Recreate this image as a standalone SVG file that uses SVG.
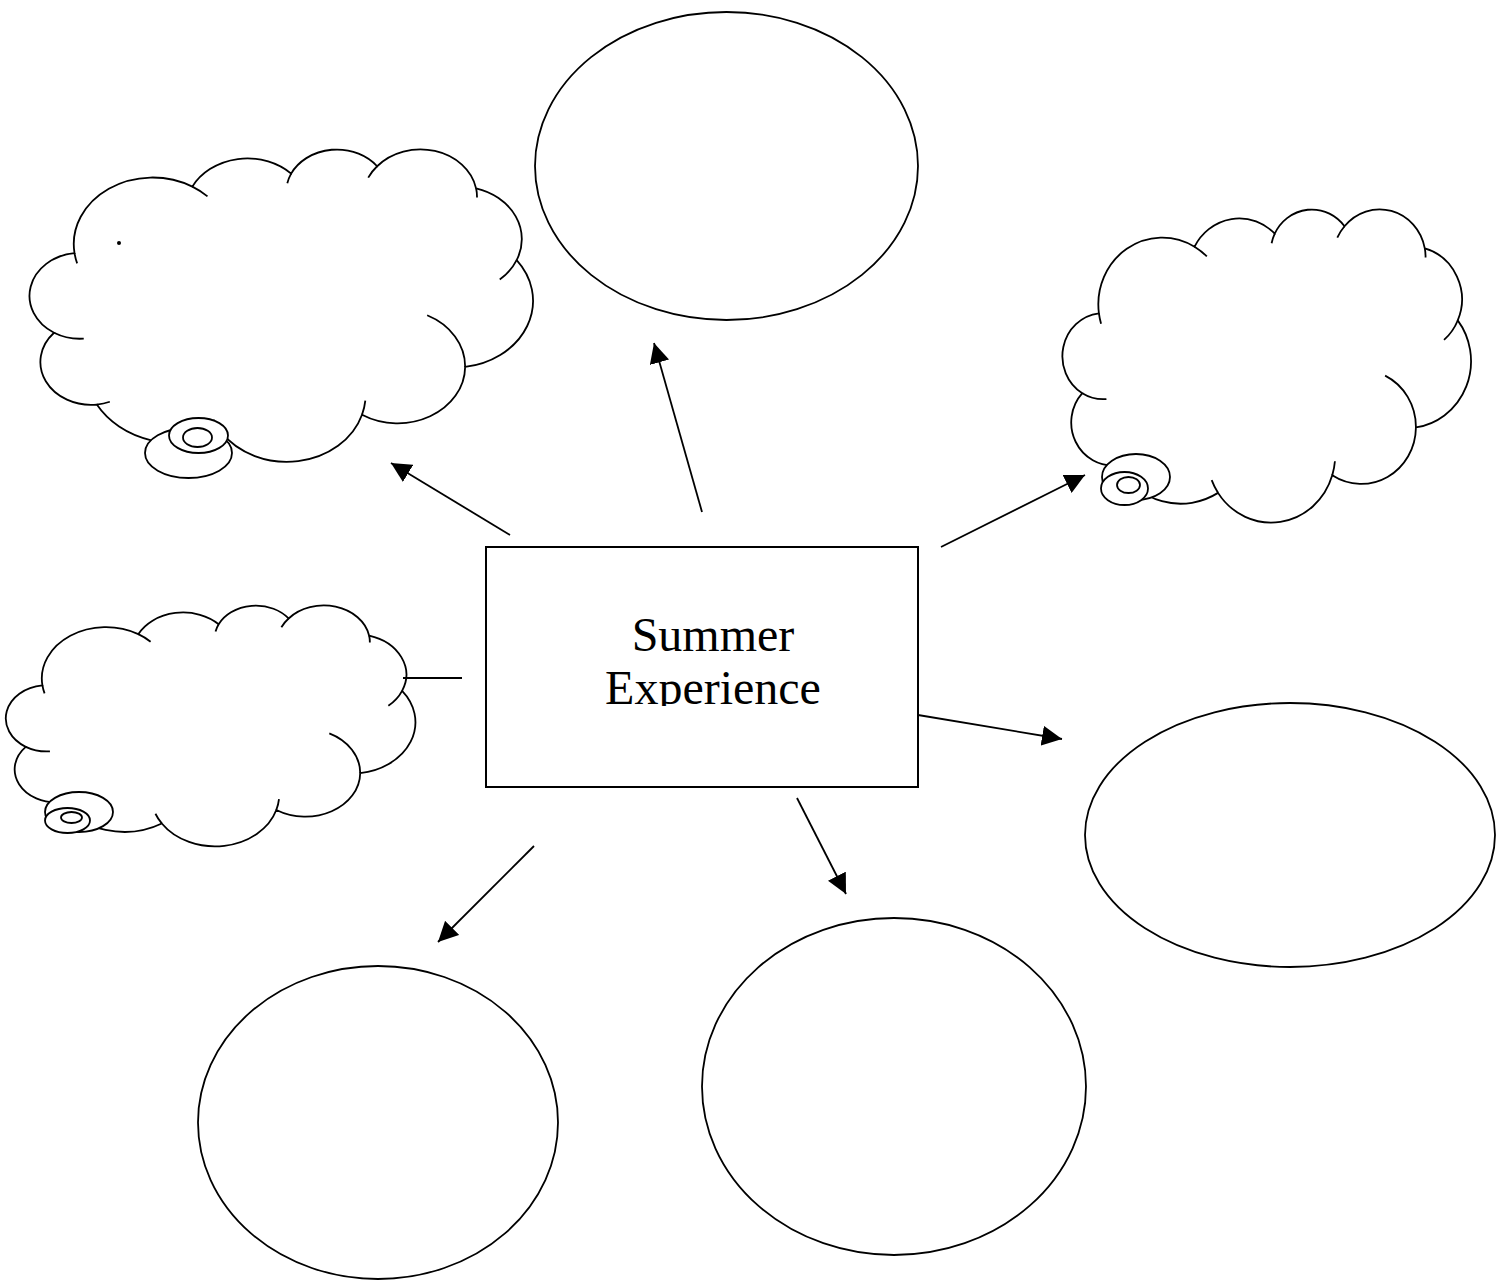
<svg xmlns="http://www.w3.org/2000/svg" width="1508" height="1282" viewBox="0 0 1508 1282">
<style>
.ln{fill:none;stroke:#000;stroke-width:1.8}
.sh{fill:#fff;stroke:#000;stroke-width:1.8}
.cl{fill:#fff;stroke:#000;stroke-width:1.8;vector-effect:non-scaling-stroke}
.ct{fill:none;stroke:#000;stroke-width:1.8;vector-effect:non-scaling-stroke}
.lbl{font-family:"Liberation Serif","Times New Roman",serif;font-size:48px;fill:#000;text-anchor:middle}
</style>
<defs>
<marker id="ah" markerUnits="userSpaceOnUse" markerWidth="20" markerHeight="20" refX="20" refY="10" orient="auto" viewBox="0 0 20 20">
<path d="M0,0 L20,10 L0,20 Z" fill="#000"/>
</marker>
<clipPath id="txtclip"><rect x="486" y="547" width="432" height="159"/></clipPath>
</defs>
<rect width="1508" height="1282" fill="#fff"/>

<g id="cloud-topleft">
<g transform="translate(29,149) scale(0.0116667,0.0072425)">
<path class="cl" d="M3900 14370 A6753 9190 0 0 1 14000 5192 A5333 7267 0 0 1 22470 3400 A4365 5945 0 0 1 29840 2380 A4857 6595 0 0 1 38320 5430 A5333 7273 0 0 1 41800 15340 A6775 9220 0 0 1 37383 30086 A5785 7867 0 0 1 28545 36690 A6752 9215 0 0 1 16480 39100 A7720 10543 0 0 1 5815 35285 A4360 5918 0 0 1 2145 25370 A4345 5945 0 0 1 3900 14370 Z"/>
<path class="ct" d="M4693 26177 A4345 5945 0 0 1 2145 25370 M6928 34899 A4360 5918 0 0 1 5815 35285 M16478 39090 A6752 9215 0 0 1 15810 37351 M28827 34751 A6752 9215 0 0 1 28545 36690 M34129 22954 A5785 7867 0 0 1 37383 30086 M41798 15354 A5333 7273 0 0 1 40350 18030 M38324 5426 A4857 6595 0 0 1 38400 6691 M29078 3952 A4857 6595 0 0 1 29840 2380 M22141 4720 A4365 5945 0 0 1 22470 3400 M14000 5192 A6753 9190 0 0 1 15299 6540 M4127 15789 A6753 9190 0 0 1 3900 14370"/>
</g>
<ellipse class="sh" cx="188.5" cy="453" rx="43.5" ry="25"/>
<ellipse class="sh" cx="198.5" cy="435.5" rx="29.5" ry="17.5"/>
<ellipse class="sh" cx="197.5" cy="437.5" rx="14.5" ry="9.5"/>
<circle cx="119" cy="243" r="2" fill="#000"/>
</g>

<g id="cloud-topright">
<g transform="translate(1062,209) scale(0.0094676,0.00726)">
<path class="cl" d="M3900 14370 A6753 9190 0 0 1 14000 5192 A5333 7267 0 0 1 22470 3400 A4365 5945 0 0 1 29840 2380 A4857 6595 0 0 1 38320 5430 A5333 7273 0 0 1 41800 15340 A6775 9220 0 0 1 37383 30086 A5785 7867 0 0 1 28545 36690 A6752 9215 0 0 1 16480 39100 A7720 10543 0 0 1 5815 35285 A4360 5918 0 0 1 2145 25370 A4345 5945 0 0 1 3900 14370 Z"/>
<path class="ct" d="M4693 26177 A4345 5945 0 0 1 2145 25370 M6928 34899 A4360 5918 0 0 1 5815 35285 M16478 39090 A6752 9215 0 0 1 15810 37351 M28827 34751 A6752 9215 0 0 1 28545 36690 M34129 22954 A5785 7867 0 0 1 37383 30086 M41798 15354 A5333 7273 0 0 1 40350 18030 M38324 5426 A4857 6595 0 0 1 38400 6691 M29078 3952 A4857 6595 0 0 1 29840 2380 M22141 4720 A4365 5945 0 0 1 22470 3400 M14000 5192 A6753 9190 0 0 1 15299 6540 M4127 15789 A6753 9190 0 0 1 3900 14370"/>
</g>
<ellipse class="sh" cx="1136" cy="477" rx="34" ry="23"/>
<ellipse class="sh" cx="1124.5" cy="488.5" rx="23.5" ry="16.5"/>
<ellipse class="sh" cx="1128.5" cy="485" rx="11.5" ry="8"/>
</g>

<g id="cloud-left">
<g transform="translate(5.4,605.2) scale(0.0094907,0.005583)">
<path class="cl" d="M3900 14370 A6753 9190 0 0 1 14000 5192 A5333 7267 0 0 1 22470 3400 A4365 5945 0 0 1 29840 2380 A4857 6595 0 0 1 38320 5430 A5333 7273 0 0 1 41800 15340 A6775 9220 0 0 1 37383 30086 A5785 7867 0 0 1 28545 36690 A6752 9215 0 0 1 16480 39100 A7720 10543 0 0 1 5815 35285 A4360 5918 0 0 1 2145 25370 A4345 5945 0 0 1 3900 14370 Z"/>
<path class="ct" d="M4693 26177 A4345 5945 0 0 1 2145 25370 M6928 34899 A4360 5918 0 0 1 5815 35285 M16478 39090 A6752 9215 0 0 1 15810 37351 M28827 34751 A6752 9215 0 0 1 28545 36690 M34129 22954 A5785 7867 0 0 1 37383 30086 M41798 15354 A5333 7273 0 0 1 40350 18030 M38324 5426 A4857 6595 0 0 1 38400 6691 M29078 3952 A4857 6595 0 0 1 29840 2380 M22141 4720 A4365 5945 0 0 1 22470 3400 M14000 5192 A6753 9190 0 0 1 15299 6540 M4127 15789 A6753 9190 0 0 1 3900 14370"/>
</g>
<ellipse class="sh" cx="79" cy="812" rx="34" ry="20"/>
<ellipse class="sh" cx="67.5" cy="820.5" rx="22.5" ry="12.5"/>
<ellipse class="sh" cx="71.5" cy="817.5" rx="10.5" ry="5.5"/>
</g>

<g id="ellipse-top"><ellipse class="sh" cx="726.5" cy="166" rx="191.5" ry="154"/></g>
<g id="ellipse-right"><ellipse class="sh" cx="1290" cy="835" rx="205" ry="132"/></g>
<g id="ellipse-bottom-mid"><ellipse class="sh" cx="894" cy="1086.5" rx="192" ry="168.5"/></g>
<g id="ellipse-bottom-left"><ellipse class="sh" cx="378" cy="1122.5" rx="180" ry="156.5"/></g>

<g id="center-box">
<rect x="486" y="547" width="432" height="240" fill="#fff" stroke="#000" stroke-width="2"/>
<g clip-path="url(#txtclip)">
<text class="lbl" x="713" y="650.5">Summer</text>
<text class="lbl" x="713" y="703.5">Experience</text>
</g>
</g>

<g id="connectors">
<line class="ln" x1="510" y1="535" x2="391" y2="463" marker-end="url(#ah)"/>
<line class="ln" x1="702" y1="512" x2="654" y2="343" marker-end="url(#ah)"/>
<line class="ln" x1="941" y1="547" x2="1085" y2="475" marker-end="url(#ah)"/>
<line class="ln" x1="918" y1="715" x2="1062" y2="739" marker-end="url(#ah)"/>
<line class="ln" x1="534" y1="846" x2="438" y2="942" marker-end="url(#ah)"/>
<line class="ln" x1="797" y1="798" x2="846" y2="894" marker-end="url(#ah)"/>
<line class="ln" x1="403" y1="678" x2="462" y2="678"/>
</g>
</svg>
